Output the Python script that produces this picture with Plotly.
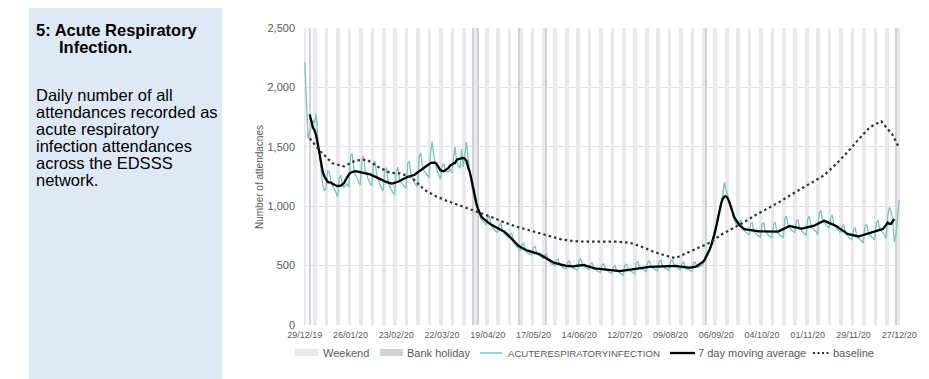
import pandas as pd
import plotly.graph_objects as go

# ---------------- data ----------------
start_date = "2019-12-29"

# daily acute respiratory infection attendances (Sun..Sat rows)
daily_attendances = [
    2210, 1900, 1570, 1620, 1680, 1720, 1700,
    1780, 1560, 1400, 1300, 1180, 1130, 1150,
    1300, 1290, 1210, 1170, 1150, 1120, 1080,
    1230, 1260, 1180, 1160, 1180, 1190, 1160,
    1420, 1440, 1320, 1260, 1240, 1200, 1180,
    1400, 1420, 1300, 1250, 1220, 1190, 1170,
    1360, 1380, 1260, 1210, 1180, 1150, 1130,
    1310, 1320, 1210, 1160, 1140, 1110, 1100,
    1290, 1330, 1230, 1200, 1180, 1160, 1150,
    1360, 1380, 1270, 1230, 1200, 1180, 1160,
    1420, 1450, 1340, 1300, 1280, 1260, 1240,
    1450, 1545, 1420, 1350, 1300, 1260, 1230,
    1330, 1360, 1300, 1290, 1290, 1310, 1280,
    1420, 1500, 1380, 1340, 1320, 1480, 1330,
    1430, 1540, 1400, 1300, 1200, 1100, 1060,
    1000, 1010, 930, 890, 870, 860, 840,
    900, 920, 850, 820, 800, 790, 780,
    840, 860, 790, 770, 760, 750, 740,
    770, 760, 690, 670, 650, 640, 630,
    680, 690, 630, 610, 600, 595, 590,
    650, 660, 610, 590, 580, 570, 560,
    590, 600, 545, 525, 515, 510, 500,
    545, 555, 510, 495, 485, 475, 470,
    530, 540, 495, 480, 475, 465, 460,
    545, 560, 510, 495, 485, 475, 465,
    510, 525, 480, 465, 455, 450, 440,
    505, 515, 475, 460, 450, 440, 435,
    490, 500, 455, 445, 435, 425, 420,
    500, 515, 470, 455, 450, 440, 430,
    525, 535, 490, 475, 465, 460, 445,
    530, 540, 495, 480, 470, 465, 455,
    535, 545, 500, 485, 475, 470, 455,
    540, 550, 505, 490, 480, 475, 460,
    520, 530, 485, 470, 465, 455, 450,
    520, 530, 490, 485, 490, 500, 510,
    560, 600, 590, 620, 660, 700, 740,
    820, 900, 970, 1040, 1100, 1200, 1140,
    1090, 1040, 970, 920, 880, 850, 830,
    870, 880, 810, 790, 780, 770, 760,
    850, 860, 790, 770, 760, 750, 740,
    850, 860, 790, 770, 755, 745, 735,
    845, 865, 795, 765, 755, 745, 735,
    900, 915, 840, 815, 800, 790, 775,
    875, 890, 815, 795, 780, 770, 750,
    895, 915, 835, 815, 800, 790, 760,
    945, 965, 885, 860, 845, 830, 815,
    905, 925, 845, 825, 810, 795, 775,
    830, 845, 775, 755, 740, 730, 715,
    800, 820, 750, 730, 720, 705, 690,
    830, 850, 780, 755, 745, 730, 715,
    860, 880, 810, 790, 775, 760, 725,
    920, 990, 960, 900, 700, 760, 880,
    1052,
]

# baseline, read weekly (Wednesdays) plus the final day
baseline_dates = list(pd.date_range("2020-01-01", "2020-12-23", freq="7D")) + [pd.Timestamp("2020-12-27")]
baseline_values = [
    1570, 1455, 1361, 1335, 1385, 1392, 1330, 1282, 1275, 1235,
    1140, 1085, 1045, 1010, 975, 945, 905, 865, 830, 803,
    775, 748, 721, 708, 701, 701, 701, 701, 692, 660,
    620, 588, 563, 605, 645, 693, 760, 812, 865, 925,
    975, 1030, 1090, 1145, 1200, 1260, 1350, 1450, 1560, 1665,
    1715, 1600, 1490,
]

bank_holidays = ["2020-01-01", "2020-04-10", "2020-04-13", "2020-05-08",
                 "2020-05-25", "2020-08-31", "2020-12-25"]

x_tick_dates = list(pd.date_range("2019-12-29", "2020-12-27", freq="28D"))
x_tick_labels = ["29/12/19", "26/01/20", "23/02/20", "22/03/20", "19/04/20", "17/05/20",
                 "14/06/20", "12/07/20", "09/08/20", "06/09/20", "04/10/20", "01/11/20",
                 "29/11/20", "27/12/20"]
y_tick_values = [0, 500, 1000, 1500, 2000, 2500]

# ---------------- derived ----------------
dates = pd.date_range(start_date, periods=len(daily_attendances), freq="D")
series = pd.Series(daily_attendances, index=dates)
moving_avg = series.rolling(7, center=True).mean()
weekend_dates = [d for d in dates if d.dayofweek >= 5]
bh_dates = pd.to_datetime(bank_holidays)
top = 2500
BAR_W = 86400000 * 0.85

FONT = "Liberation Sans, Arial, sans-serif"
GREY = "#595959"
WEEKEND_C = "#e9e9ed"
BH_C = "#d2d2d6"
TEAL = "#74c8b8"

fig = go.Figure()
fig.add_trace(go.Bar(x=weekend_dates, y=[top] * len(weekend_dates), width=BAR_W,
                     marker=dict(color=WEEKEND_C, line=dict(width=0)), name="Weekend",
                     hoverinfo="skip"))
fig.add_trace(go.Bar(x=bh_dates, y=[top] * len(bh_dates), width=BAR_W,
                     marker=dict(color=BH_C, line=dict(width=0)), name="Bank holiday",
                     hoverinfo="skip"))
fig.add_trace(go.Scatter(x=dates, y=series.values, mode="lines", name="ACUTERESPIRATORYINFECTION",
                         line=dict(color=TEAL, width=1.3)))
fig.add_trace(go.Scatter(x=dates, y=moving_avg.values, mode="lines", name="7 day moving average",
                         line=dict(color="#000000", width=2.3)))
fig.add_trace(go.Scatter(x=baseline_dates, y=baseline_values, mode="lines", name="baseline",
                         line=dict(color="#333333", width=2.2, dash="2.5px,3px")))

# the page body adds an 8px offset; size the figure so the page matches 929x379
OFF = 8
W, H = 929 - OFF, 379 - OFF
L, R, T, B = 304 - OFF, 29, 28 - OFF, 54
PW, PH = W - L - R, H - T - B


def px(xp):  # page pixel x -> paper
    return (xp - OFF - L) / PW


def py(yp):  # page pixel y -> paper
    return (H - B - (yp - OFF)) / PH


shapes = [
    dict(type="rect", xref="paper", yref="paper", x0=px(29), x1=px(222), y0=py(390), y1=py(-10),
         fillcolor="#dfe9f5", line=dict(width=0), layer="below"),
]
annotations = []


def txt(s, x, y, size, bold=False, color="#000000", anchor="left"):
    annotations.append(dict(text=f"<b>{s}</b>" if bold else s, xref="paper", yref="paper",
                            x=px(x), y=py(y), xanchor=anchor, yanchor="middle", showarrow=False,
                            font=dict(family=FONT, size=size, color=color)))


txt("5: Acute Respiratory", 34, 30, 16.5, bold=True)
txt("Infection.", 57, 47, 16.5, bold=True)
body = ["Daily number of all", "attendances recorded as", "acute respiratory",
        "infection attendances", "across the EDSSS", "network."]
for i, line in enumerate(body):
    txt(line, 34, 95 + 17 * i, 16.5)

annotations.append(dict(text="Number of attendacnes", xref="paper", yref="paper", x=px(259), y=py(177),
                        xanchor="center", yanchor="middle", textangle=-90, showarrow=False,
                        font=dict(family=FONT, size=10, color=GREY)))

# legend drawn manually
ly = 353
shapes.append(dict(type="rect", xref="paper", yref="paper", x0=px(295), x1=px(318), y0=py(356), y1=py(349),
                   fillcolor=WEEKEND_C, line=dict(width=0)))
shapes.append(dict(type="rect", xref="paper", yref="paper", x0=px(380), x1=px(403), y0=py(356), y1=py(349),
                   fillcolor=BH_C, line=dict(width=0)))
shapes.append(dict(type="line", xref="paper", yref="paper", x0=px(480), x1=px(502), y0=py(ly), y1=py(ly),
                   line=dict(color=TEAL, width=1.5)))
shapes.append(dict(type="line", xref="paper", yref="paper", x0=px(670), x1=px(695), y0=py(ly), y1=py(ly),
                   line=dict(color="#000000", width=2.3)))
shapes.append(dict(type="line", xref="paper", yref="paper", x0=px(813), x1=px(829), y0=py(ly), y1=py(ly),
                   line=dict(color="#333333", width=2.2, dash="2px,2.5px")))
txt("Weekend", 321, ly, 11, color=GREY)
txt("Bank holiday", 405, ly, 11, color=GREY)
txt("ACUTERESPIRATORYINFECTION", 506, ly, 9.6, color=GREY)
txt("7 day moving average", 696, ly, 11, color=GREY)
txt("baseline", 831, ly, 11, color=GREY)

fig.update_layout(
    width=W, height=H, margin=dict(l=L, r=R, t=T, b=B),
    paper_bgcolor="white", plot_bgcolor="white", showlegend=False,
    barmode="overlay", bargap=0,
    font=dict(family=FONT, color=GREY),
    shapes=shapes, annotations=annotations,
    xaxis=dict(type="date", range=["2019-12-28 12:00", "2020-12-27 12:00"],
               tickvals=x_tick_dates, ticktext=x_tick_labels, tickfont=dict(size=9, color=GREY),
               showgrid=False, zeroline=False, showline=False, ticks="", ticklabelstandoff=3),
    yaxis=dict(range=[0, top], tickvals=y_tick_values, tickformat=",", tickfont=dict(size=11, color=GREY),
               showgrid=True, gridcolor="#e2e2e2", gridwidth=1, zeroline=False, showline=False,
               ticklabelstandoff=8),
)

fig.write_html("out.html")
